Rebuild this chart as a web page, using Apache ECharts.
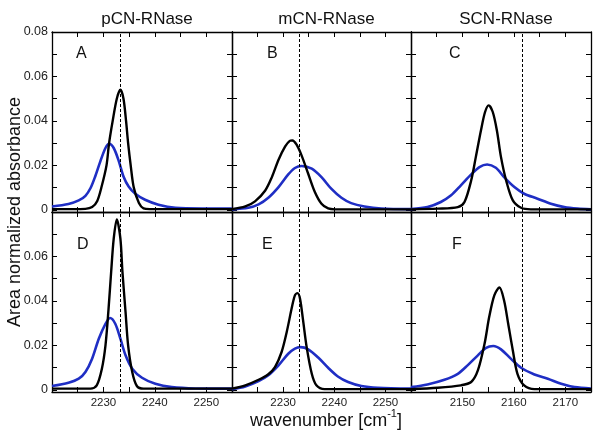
<!DOCTYPE html>
<html><head><meta charset="utf-8">
<script src="https://cdn.jsdelivr.net/npm/echarts@6/dist/echarts.min.js"></script>
<style>html,body{margin:0;padding:0;background:#fff}#c{width:600px;height:437px}</style>
</head><body><div id="c"></div><script>
// ---- data ----
const columnTitles = ['pCN-RNase', 'mCN-RNase', 'SCN-RNase'];
const panelLetters = ['A', 'B', 'C', 'D', 'E', 'F'];
const xRanges = [[2220, 2255], [2220, 2255], [2140, 2175]];
const xTickLabels = [[2230, 2240, 2250], [2230, 2240, 2250], [2150, 2160, 2170]];
const yTickLabelsTop = [0, 0.02, 0.04, 0.06, 0.08];
const yTickLabelsBottom = [0, 0.02, 0.04, 0.06];
const yTicks = [0, 0.01, 0.02, 0.03, 0.04, 0.05, 0.06, 0.07, 0.08];
const refLines = [2233.2, 2233.2, 2161.7];
const yAxisTitle = 'Area normalized absorbance';

const A_black = [[2220,0.0003],[2224,0.0003],[2226.5,0.0004],[2227.8,0.0012],[2228.8,0.004],[2229.6,0.01],[2230.6,0.02],[2231.1,0.03],[2231.8,0.04],[2232.6,0.05],[2233.3,0.054],[2233.9,0.05],[2234.4,0.04],[2234.8,0.03],[2235.3,0.02],[2235.9,0.01],[2236.9,0.003],[2237.8,0.0006],[2239,0.0003],[2255,0.0003]];
const A_blue = [[2220,0.0015],[2223.2,0.0026],[2225.2,0.0042],[2226.5,0.0063],[2227.5,0.0098],[2228.4,0.015],[2229.4,0.0218],[2230.4,0.0278],[2231.1,0.0297],[2232,0.0278],[2233,0.0218],[2233.9,0.015],[2234.9,0.0105],[2236.2,0.0072],[2238.1,0.0045],[2240.7,0.0023],[2244,0.0009],[2249.2,0.0006],[2255,0.0006]];
const B_black = [[2220,0.0003],[2222.6,0.0015],[2224.5,0.0038],[2226.5,0.0087],[2227.8,0.0147],[2229.1,0.0225],[2230.4,0.0285],[2231.3,0.031],[2231.8,0.0312],[2232.6,0.0294],[2233.6,0.0245],[2234.9,0.0162],[2236.2,0.008],[2237.5,0.0027],[2238.8,0.0006],[2240.1,0.0002],[2255,0.0002]];
const B_blue = [[2220,0.0002],[2223.2,0.0009],[2225.2,0.0024],[2227.1,0.0054],[2229.1,0.0102],[2231,0.0159],[2232.3,0.0188],[2233.6,0.0197],[2235.6,0.0185],[2237.5,0.0147],[2239.4,0.0095],[2241.4,0.0054],[2243.3,0.003],[2245.9,0.0015],[2249.2,0.0006],[2255,0.0003]];
const C_black = [[2140,0.0002],[2145.2,0.0005],[2149.1,0.0012],[2150.4,0.0035],[2151.7,0.0132],[2152.6,0.0237],[2153.6,0.0357],[2154.4,0.044],[2155.1,0.047],[2155.9,0.044],[2156.7,0.0357],[2157.5,0.0237],[2158.5,0.0132],[2159.8,0.0042],[2161.4,0.0009],[2163.3,0.0002],[2175,0.0002]];
const C_blue = [[2140,0.0003],[2143.2,0.0012],[2145.8,0.0035],[2147.8,0.0065],[2149.7,0.011],[2151.7,0.0159],[2153.3,0.0192],[2154.8,0.0204],[2156.5,0.0189],[2158.1,0.0147],[2160.1,0.0102],[2162,0.0072],[2164.6,0.005],[2167.2,0.0027],[2169.8,0.0012],[2172.4,0.0005],[2175,0.0002]];
const D_black = [[2220,0.0005],[2227.5,0.0005],[2228.7,0.002],[2229.7,0.0095],[2230.4,0.02],[2231,0.0365],[2231.5,0.053],[2232,0.068],[2232.6,0.0767],[2233.3,0.068],[2233.7,0.053],[2234.3,0.035],[2234.8,0.02],[2235.6,0.008],[2236.5,0.0017],[2237.8,0.0005],[2255,0.0005]];
const D_blue = [[2220,0.0017],[2223.2,0.0032],[2225.2,0.005],[2226.5,0.008],[2227.8,0.014],[2229.1,0.023],[2230.4,0.0297],[2231.3,0.0323],[2232.3,0.0297],[2233.3,0.023],[2234.3,0.0155],[2235.6,0.0095],[2237.5,0.0054],[2240.1,0.0027],[2243.3,0.0012],[2247.9,0.0006],[2255,0.0005]];
const E_black = [[2220,0.0005],[2222.6,0.002],[2225.2,0.0045],[2227.1,0.007],[2228.4,0.0102],[2229.7,0.017],[2230.7,0.026],[2231.7,0.037],[2232.3,0.0425],[2232.8,0.0435],[2233.3,0.041],[2233.9,0.0312],[2234.6,0.0192],[2235.6,0.0072],[2236.5,0.002],[2238.1,0.0003],[2255,0.0003]];
const E_blue = [[2220,0.0002],[2222.6,0.0015],[2225.2,0.0039],[2227.1,0.0065],[2229.1,0.011],[2231,0.0162],[2232.3,0.0185],[2233.4,0.0192],[2234.9,0.0182],[2236.9,0.0144],[2238.8,0.0099],[2240.7,0.006],[2242.7,0.0035],[2245.3,0.0017],[2248.5,0.0009],[2255,0.0005]];
const F_black = [[2140,0.0003],[2145.2,0.0009],[2149.7,0.002],[2151.7,0.0035],[2153,0.0087],[2154.3,0.0207],[2155.2,0.0327],[2156.2,0.0425],[2157.2,0.046],[2158.1,0.0402],[2158.9,0.0297],[2159.8,0.0177],[2160.7,0.0072],[2162,0.002],[2164,0.0003],[2175,0.0003]];
const F_blue = [[2140,0.0012],[2143.2,0.0024],[2146.5,0.0045],[2149.1,0.0072],[2151,0.011],[2153,0.0155],[2154.6,0.0189],[2156,0.0197],[2157.5,0.0182],[2159.4,0.014],[2161.4,0.0099],[2164,0.0069],[2166.6,0.005],[2169.2,0.0027],[2171.8,0.0012],[2175,0.0006]];

// ---- layout ----
const FONT = '"Liberation Sans", Arial, Helvetica, sans-serif';
const colLeft = [52, 232, 411], colW = [180, 179, 180];
const rowTop = [32, 212], rowH = 180;
const panels = [[A_black, A_blue], [B_black, B_blue], [C_black, C_blue], [D_black, D_blue], [E_black, E_blue], [F_black, F_blue]];

const chart = echarts.init(document.getElementById('c'));
const grids = [], xAxes = [], yAxes = [], series = [], titles = [];
const axisLine = { show: true, onZero: false, lineStyle: { color: '#000', width: 1.3 } };
const tick = (extra) => Object.assign({ show: true, inside: true, length: 5, lineStyle: { color: '#000', width: 1 } }, extra || {});
const yFmt = v => (Math.abs(v) < 1e-9 ? '0' : v.toFixed(2));
const xFmt = v => String(Math.round(v));

for (let i = 0; i < 6; i++) {
  const r = Math.floor(i / 3), c = i % 3;
  grids.push({ left: colLeft[c], top: rowTop[r], width: colW[c], height: rowH });
}
for (let i = 0; i < 6; i++) {
  const r = Math.floor(i / 3), c = i % 3;
  xAxes.push({ type: 'value', gridIndex: i, position: 'bottom', min: xRanges[c][0], max: xRanges[c][1], interval: 5,
    axisLine, axisTick: tick(), splitLine: { show: false },
    axisLabel: { show: r === 1, customValues: xTickLabels[c], formatter: xFmt, fontSize: 11.5, color: '#222', margin: 5, fontFamily: FONT } });
  yAxes.push({ type: 'value', gridIndex: i, position: 'left', min: -0.001, max: 0.08,
    axisLine, axisTick: tick({ customValues: yTicks }), splitLine: { show: false },
    axisLabel: { show: c === 0, customValues: r === 0 ? yTickLabelsTop : yTickLabelsBottom, formatter: yFmt,
      fontSize: 12.5, color: '#222', margin: 4, fontFamily: FONT } });
}
for (let i = 0; i < 6; i++) {
  const c = i % 3;
  xAxes.push({ type: 'value', gridIndex: i, position: 'top', min: xRanges[c][0], max: xRanges[c][1], interval: 5,
    axisLine, axisTick: tick(), splitLine: { show: false }, axisLabel: { show: false } });
  yAxes.push({ type: 'value', gridIndex: i, position: 'right', min: -0.001, max: 0.08,
    axisLine, axisTick: tick({ customValues: yTicks }), splitLine: { show: false }, axisLabel: { show: false } });
}
for (let i = 0; i < 6; i++) {
  const c = i % 3;
  series.push({ type: 'line', xAxisIndex: i, yAxisIndex: i, data: panels[i][1], showSymbol: false, smooth: 0.3,
    lineStyle: { color: '#1f2ec4', width: 2.6 }, itemStyle: { color: '#1f2ec4' }, z: 3 });
  series.push({ type: 'line', xAxisIndex: i, yAxisIndex: i, data: panels[i][0], showSymbol: false, smooth: 0.3,
    lineStyle: { color: '#000', width: 2.4 }, itemStyle: { color: '#000' }, z: 4,
    markLine: { silent: true, symbol: ['none', 'none'], label: { show: false }, animation: false,
      lineStyle: { color: '#000', type: [3, 2], width: 1 }, data: [{ xAxis: refLines[c] }] } });
}
for (let c = 0; c < 3; c++) {
  titles.push({ text: columnTitles[c], left: colLeft[c] + colW[c] / 2, top: 6, textAlign: 'center',
    textStyle: { fontSize: 17, fontWeight: 'normal', color: '#111', fontFamily: FONT } });
}
const letterPos = [[71, 41], [262, 41], [444, 41], [72, 232], [257, 232], [447, 232]];
for (let i = 0; i < 6; i++) {
  titles.push({ text: panelLetters[i], left: letterPos[i][0], top: letterPos[i][1],
    textStyle: { fontSize: 16, fontWeight: 'normal', color: '#111', fontFamily: FONT } });
}
titles.push({ text: '{a|wavenumber [cm}{s|-1}{a|]}', left: 321, top: 403, textAlign: 'center',
  textStyle: { fontWeight: 'normal', rich: {
    a: { fontSize: 18, fontWeight: 'normal', color: '#111', fontFamily: FONT, lineHeight: 22, verticalAlign: 'bottom' },
    s: { fontSize: 11, fontWeight: 'normal', color: '#111', fontFamily: FONT, lineHeight: 22, verticalAlign: 'top', padding: [0, 0, 6, 0] } } } });

chart.setOption({
  animation: false,
  backgroundColor: '#fff',
  title: titles,
  grid: grids, xAxis: xAxes, yAxis: yAxes, series,
  graphic: [{ type: 'text', x: 15, y: 212, rotation: Math.PI / 2,
    style: { text: yAxisTitle, font: '18px ' + FONT, fill: '#111', textAlign: 'center', textVerticalAlign: 'middle', align: 'center', verticalAlign: 'middle' } }]
});
</script></body></html>
